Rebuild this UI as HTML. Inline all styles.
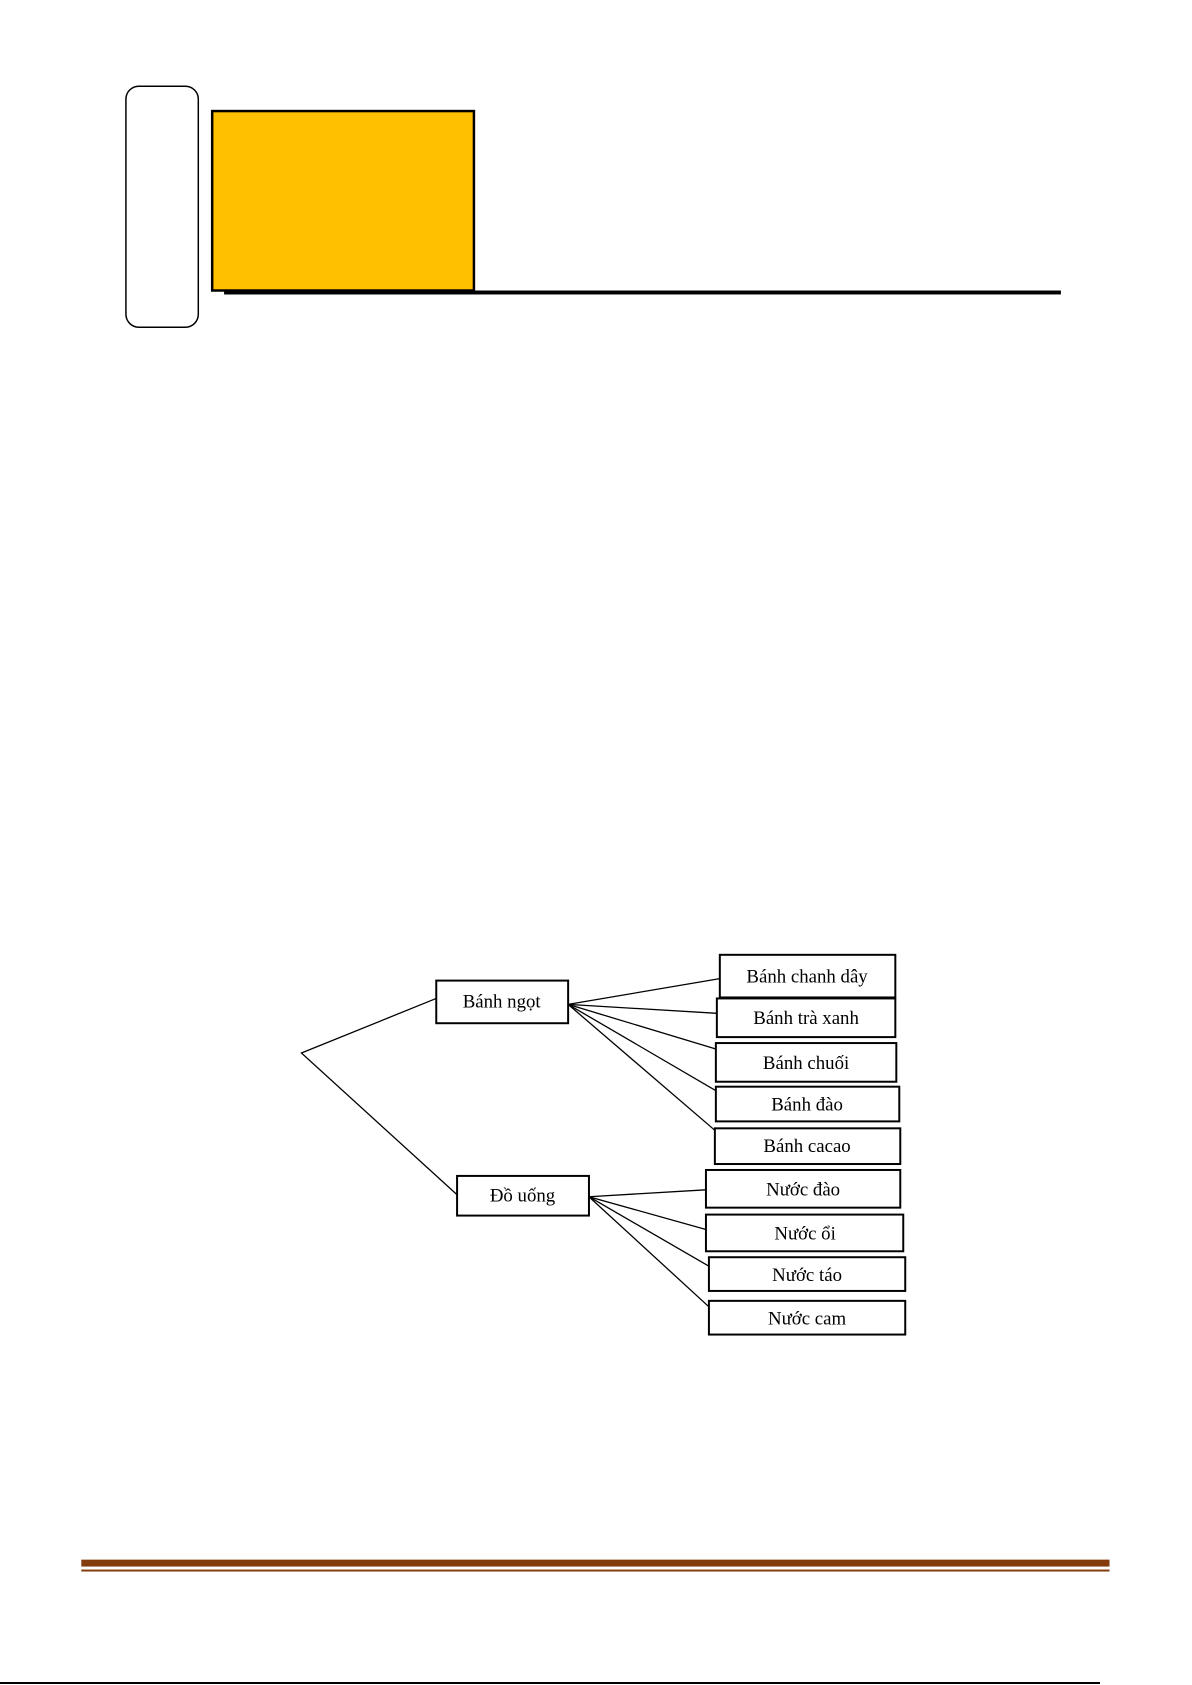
<!DOCTYPE html>
<html><head><meta charset="utf-8"><style>
html,body{margin:0;padding:0;background:#fff;}
body{width:1192px;height:1685px;position:relative;overflow:hidden;font-family:"Liberation Serif",serif;}
</style></head><body>
<svg width="1192" height="1685" style="position:absolute;left:0;top:0">
<g transform="scale(0.9915)">
<rect x="127" y="87" width="73" height="243" rx="13" fill="none" stroke="#000" stroke-width="1.5"/>
<rect x="214" y="112" width="264" height="181" fill="#FFC000" stroke="#000" stroke-width="2.5"/>
<rect x="226" y="293" width="844" height="4" fill="#000"/>
<rect x="82" y="1573" width="1037" height="7" fill="#843C0C"/>
<rect x="82" y="1583" width="1037" height="2" fill="#843C0C"/>
<g stroke="#000" stroke-width="1.3" fill="none">
<polyline points="440,1007 304,1062 461,1205"/>
<line x1="573" y1="1013" x2="726" y2="987"/>
<line x1="573" y1="1013" x2="723" y2="1022"/>
<line x1="573" y1="1013" x2="722" y2="1058"/>
<line x1="573" y1="1013" x2="722" y2="1100"/>
<line x1="573" y1="1013" x2="721" y2="1140"/>
<line x1="594" y1="1207" x2="712" y2="1200"/>
<line x1="594" y1="1207" x2="712" y2="1240"/>
<line x1="594" y1="1207" x2="715" y2="1277"/>
<line x1="594" y1="1207" x2="715" y2="1318"/>
</g>
<g stroke="#000" stroke-width="2" fill="#fff">
<rect x="440" y="989" width="133" height="43"/>
<rect x="461" y="1186" width="133" height="40"/>
<rect x="726" y="963" width="177" height="43"/>
<rect x="723" y="1007" width="180" height="39"/>
<rect x="722" y="1052" width="182" height="39"/>
<rect x="722" y="1096" width="185" height="35"/>
<rect x="721" y="1138" width="187" height="36"/>
<rect x="712" y="1180" width="196" height="38"/>
<rect x="712" y="1225" width="199" height="37"/>
<rect x="715" y="1268" width="198" height="34"/>
<rect x="715" y="1312" width="198" height="34"/>
</g>
<g font-family="Liberation Serif, serif" font-size="19" text-anchor="middle" fill="#000">
<text x="506" y="1016">Bánh ngọt</text>
<text x="527" y="1212">Đồ uống</text>
<text x="814" y="991">Bánh chanh dây</text>
<text x="813" y="1033">Bánh trà xanh</text>
<text x="813" y="1078">Bánh chuối</text>
<text x="814" y="1120">Bánh đào</text>
<text x="814" y="1162">Bánh cacao</text>
<text x="810" y="1206">Nước đào</text>
<text x="812" y="1250">Nước ổi</text>
<text x="814" y="1292">Nước táo</text>
<text x="814" y="1336">Nước cam</text>
</g>
</g>
<rect x="0" y="1682" width="1100" height="2" fill="#000"/>
</svg>
</body></html>
